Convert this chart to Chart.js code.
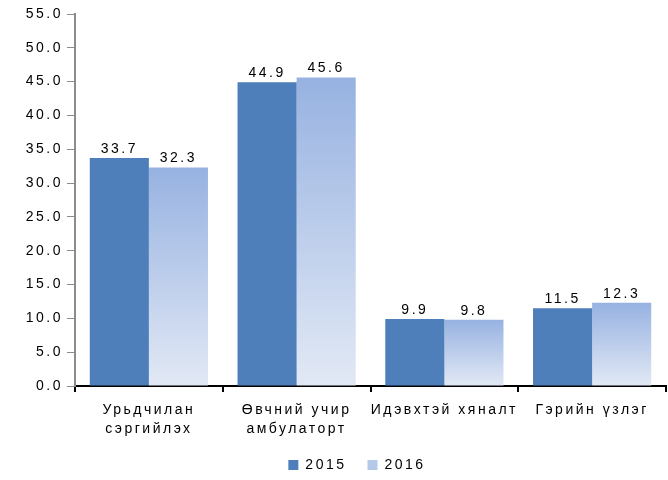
<!DOCTYPE html>
<html>
<head>
<meta charset="utf-8">
<script src="https://cdn.jsdelivr.net/npm/chart.js@4/dist/chart.umd.min.js"></script>
<style>
  html, body { margin: 0; padding: 0; background: #fff; }
  #wrap { width: 668px; height: 480px; }
</style>
</head>
<body>
<div id="wrap"><canvas id="chart" width="668" height="480"></canvas></div>
<script>
const categories = [
  ['Урьдчилан', 'сэргийлэх'],
  ['Өвчний учир', 'амбулаторт'],
  'Идэвхтэй хяналт',
  'Гэрийн үзлэг'
];
const values2015 = [33.7, 44.9, 9.9, 11.5];
const values2016 = [32.3, 45.6, 9.8, 12.3];
const seriesNames = ['2015', '2016'];

const FONT = "'Liberation Sans', Arial, sans-serif";
const SPACING = '2.5px';

// 2016 bars fade from light blue at the top to almost white at the bottom
function fadeFill(ctx) {
  const chart = ctx.chart;
  const y = chart.scales.y;
  if (!y || ctx.type !== 'data') return '#b4c8ea';
  const top = y.getPixelForValue(ctx.parsed.y);
  const bottom = y.getPixelForValue(0);
  const g = chart.ctx.createLinearGradient(0, top, 0, bottom);
  g.addColorStop(0, '#97b2e1');
  g.addColorStop(1, '#e2e9f5');
  return g;
}

// the original text is drawn wide, so spread the letters a bit
const wideText = {
  id: 'wideText',
  afterInit(chart) { chart.ctx.letterSpacing = SPACING; },
  beforeUpdate(chart) { chart.ctx.letterSpacing = SPACING; },
  beforeDraw(chart) { chart.ctx.letterSpacing = SPACING; },
  // legend sits a little right of the canvas centre in the original
  afterLayout(chart) { if (chart.legend) chart.legend.left += 48; }
};

const valueLabels = {
  id: 'valueLabels',
  afterDatasetsDraw(chart) {
    const c = chart.ctx;
    c.save();
    c.font = '14px ' + FONT;
    c.fillStyle = '#000';
    c.textAlign = 'center';
    c.textBaseline = 'bottom';
    chart.data.datasets.forEach((ds, i) => {
      chart.getDatasetMeta(i).data.forEach((bar, j) => {
        c.fillText(ds.data[j].toFixed(1), bar.x, bar.y - 2);
      });
    });
    c.restore();
  }
};

new Chart(document.getElementById('chart'), {
  type: 'bar',
  data: {
    labels: categories,
    datasets: [
      {
        label: seriesNames[0],
        data: values2015,
        backgroundColor: '#4f7fba',
        categoryPercentage: 0.8,
        barPercentage: 1.0
      },
      {
        label: seriesNames[1],
        data: values2016,
        backgroundColor: fadeFill,
        categoryPercentage: 0.8,
        barPercentage: 1.0
      }
    ]
  },
  options: {
    responsive: false,
    animation: false,
    layout: { padding: { top: 14, left: 0, right: 2, bottom: 0 } },
    plugins: {
      tooltip: { enabled: false },
      legend: {
        position: 'bottom',
        maxHeight: 43,
        labels: {
          font: { family: FONT, size: 14 },
          color: '#000',
          boxWidth: 10,
          boxHeight: 10,
          padding: 21,
          generateLabels(chart) {
            return seriesNames.map((name, i) => ({
              text: name,
              fillStyle: i === 0 ? '#4f7fba' : '#b4c8ea',
              strokeStyle: 'rgba(0,0,0,0)',
              lineWidth: 0,
              datasetIndex: i
            }));
          }
        }
      }
    },
    scales: {
      x: {
        offset: true,
        grid: {
          offset: true,
          drawOnChartArea: false,
          drawTicks: true,
          tickLength: 6,
          color: '#000',
          tickColor: '#000',
          lineWidth: 2
        },
        border: { color: '#000', width: 2 },
        ticks: {
          font: { family: FONT, size: 14, lineHeight: 1.4 },
          color: '#000',
          padding: 8,
          maxRotation: 0,
          autoSkip: false
        },
        afterFit(scale) { scale.height = 51; }
      },
      y: {
        min: 0,
        max: 55,
        grid: {
          drawOnChartArea: false,
          drawTicks: true,
          tickLength: 8,
          tickColor: '#8c8c8c'
        },
        border: { color: '#8c8c8c', width: 2 },
        ticks: {
          stepSize: 5,
          font: { family: FONT, size: 14 },
          color: '#000',
          padding: 4,
          callback: v => v.toFixed(1)
        },
        afterFit(scale) { scale.width = 75; }
      }
    }
  },
  plugins: [wideText, valueLabels]
});
</script>
</body>
</html>
